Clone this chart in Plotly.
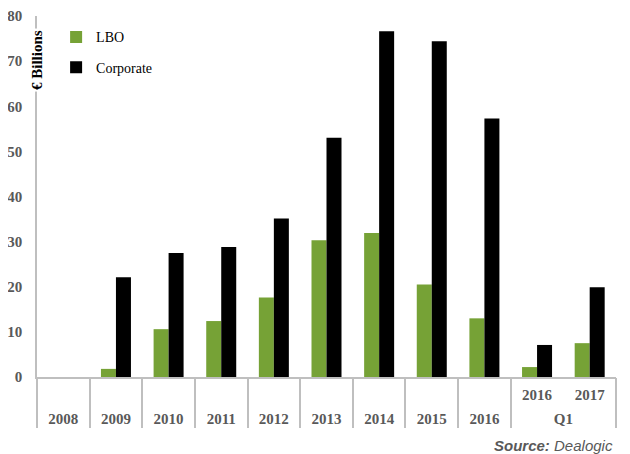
import plotly.graph_objects as go

periods = ["2008", "2009", "2010", "2011", "2012", "2013", "2014", "2015", "2016", "2016", "2017"]
groups = ["2008", "2009", "2010", "2011", "2012", "2013", "2014", "2015", "2016", "Q1", "Q1"]
lbo = [0, 1.8, 10.6, 12.4, 17.6, 30.3, 31.9, 20.5, 13.0, 2.2, 7.5]
corporate = [0, 22.1, 27.5, 28.8, 35.1, 53.0, 76.6, 74.4, 57.3, 7.1, 19.9]

GREEN = "#76A236"
GREY = "#595959"
LINE = "#BFBFBF"
SERIF = "Liberation Serif"

pos = list(range(len(periods)))

# first label row: periods that sit inside a wider group (Q1)
row1_vals = [i for i in pos if periods[i] != groups[i]]
row1_text = [periods[i] for i in row1_vals]

# second label row: one label per group, centred on its members
uniq_groups = []
for g in groups:
    if g not in uniq_groups:
        uniq_groups.append(g)
row2_vals = []
for g in uniq_groups:
    idx = [i for i in pos if groups[i] == g]
    row2_vals.append(sum(idx) / len(idx))

# dividers: edges of every group
bounds = [-0.5] + [i + 0.5 for i in range(len(groups) - 1) if groups[i] != groups[i + 1]] + [len(groups) - 0.5]

fig = go.Figure()
fig.add_trace(go.Bar(x=pos, y=lbo, name="LBO", marker_color=GREEN,
                     marker_line_width=0, legendgroup="a"))
fig.add_trace(go.Bar(x=pos, y=corporate, name="Corporate", marker_color="#000000",
                     marker_line_width=0, legendgroup="b"))
# invisible carriers so the label-row and divider axes are drawn
for ax in ["x2", "x3"]:
    fig.add_trace(go.Scatter(x=pos, y=lbo, xaxis=ax, yaxis="y", mode="markers",
                             marker=dict(opacity=0), showlegend=False, hoverinfo="skip"))

xr = [-0.5, len(pos) - 0.5]
tf = dict(family=SERIF, size=15, color=GREY, weight="bold")

fig.update_layout(
    width=622, height=446,
    margin=dict(l=29, r=14, t=8, b=77, autoexpand=False),
    paper_bgcolor="white", plot_bgcolor="white",
    barmode="group", bargap=0.43, bargroupgap=0,
    font=dict(family=SERIF, size=15, color=GREY),
    showlegend=True,
    legend=dict(x=0.033, y=0.985, xanchor="left", yanchor="top", itemwidth=30,
                font=dict(family=SERIF, size=14, color="#000000"),
                tracegroupgap=9, bgcolor="rgba(0,0,0,0)"),
    xaxis=dict(type="linear", range=xr, automargin=False, showline=True, linecolor=LINE,
               linewidth=1.5, showgrid=False, zeroline=False, ticks="",
               tickmode="array", tickvals=row1_vals, ticktext=row1_text,
               ticklabelstandoff=3, tickfont=tf),
    xaxis2=dict(type="linear", range=xr, overlaying="x", anchor="y", side="bottom",
                automargin=False, showline=False, showgrid=False, zeroline=False, ticks="",
                tickmode="array", tickvals=row2_vals, ticktext=uniq_groups,
                ticklabelstandoff=31, tickfont=tf),
    xaxis3=dict(type="linear", range=xr, overlaying="x", anchor="y", side="bottom",
                automargin=False, showline=False, showgrid=False, zeroline=False,
                tickmode="array", tickvals=bounds, ticks="outside", ticklen=50,
                tickwidth=1.5, tickcolor=LINE, showticklabels=False),
    yaxis=dict(range=[0, 80], dtick=10, showgrid=False, zeroline=False, automargin=False,
               showline=True, linecolor=LINE, linewidth=1.5, ticks="",
               ticklabelstandoff=10, tickfont=tf),
    annotations=[
        dict(text="<b>€ Billions</b>", xref="paper", yref="paper", x=0, y=0.878,
             xanchor="center", yanchor="middle",
             textangle=-90, showarrow=False, bgcolor="white",
             font=dict(family=SERIF, size=15, color="#000000")),
        dict(text="<b><i>Source:</i></b><i> Dealogic</i>", xref="paper", yref="paper",
             x=0.998, y=-0.191, xanchor="right", yanchor="middle", showarrow=False,
             font=dict(family="Liberation Sans", size=15, color=GREY)),
    ],
)

fig.write_html("out.html")
